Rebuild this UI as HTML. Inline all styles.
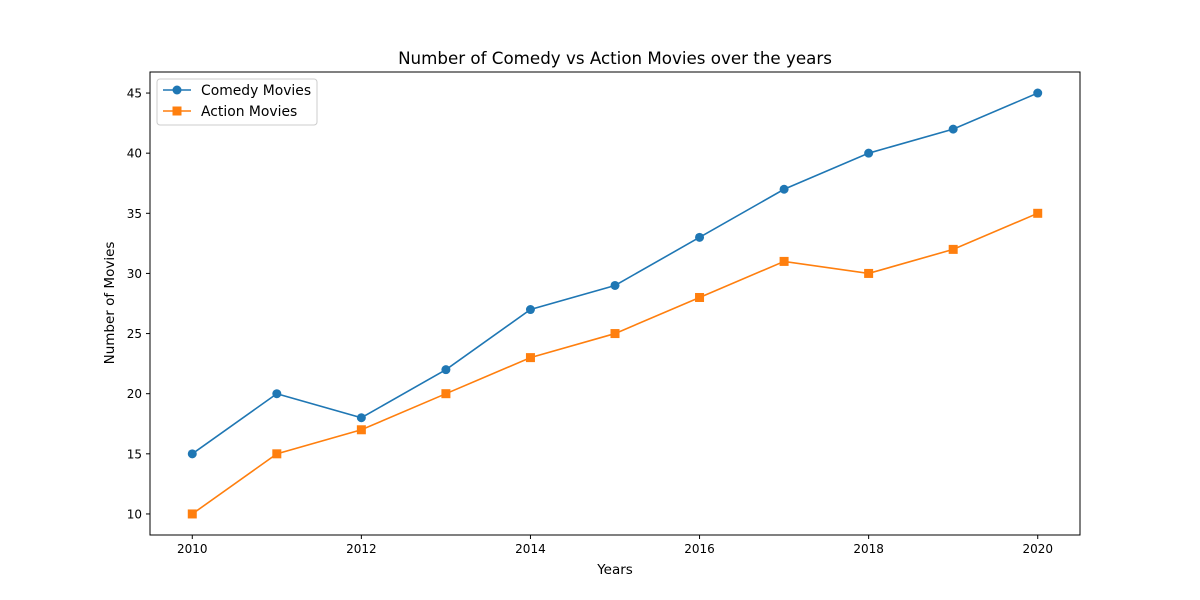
<!DOCTYPE html>
<html><head><meta charset="utf-8">
<style>
body{margin:0;background:#fff;}
svg{display:block;font-family:"DejaVu Sans","Liberation Sans",sans-serif;}
</style></head>
<body>
<svg id="chart" width="1200" height="600" xmlns="http://www.w3.org/2000/svg">
<rect width="1200" height="600" fill="#fff"/>
<text x="615" y="64" text-anchor="middle" font-size="16.7">Number of Comedy vs Action Movies over the years</text>
<text x="615" y="574" text-anchor="middle" font-size="13.5">Years</text>
<text x="114" y="303" text-anchor="middle" font-size="13.5" transform="rotate(-90 114 303)">Number of Movies</text>
<g id="ticks"></g>
<g id="series"></g>
<rect x="150" y="72" width="930" height="463" fill="none" stroke="#000" stroke-width="1"/>
<g>
<rect x="157" y="79" width="160" height="46" rx="3" fill="#fff" stroke="#ccc"/>
<line x1="163" y1="90" x2="191" y2="90" stroke="#1f77b4" stroke-width="1.5"/>
<circle cx="177" cy="90" r="4.5" fill="#1f77b4"/>
<text x="201" y="95" font-size="13.9">Comedy Movies</text>
<line x1="163" y1="111" x2="191" y2="111" stroke="#ff7f0e" stroke-width="1.5"/>
<rect x="172.5" y="106.5" width="9" height="9" fill="#ff7f0e"/>
<text x="201" y="116" font-size="13.9">Action Movies</text>
</g>
</svg>
<script>
const years = [2010,2011,2012,2013,2014,2015,2016,2017,2018,2019,2020];
const comedy = [15,20,18,22,27,29,33,37,40,42,45];
const action = [10,15,17,20,23,25,28,31,30,32,35];
const xTicks = [2010,2012,2014,2016,2018,2020];
const yTicks = [10,15,20,25,30,35,40,45];

const NS = "http://www.w3.org/2000/svg";
const x0=150,x1=1080,y0=72,y1=535;
const xMin=2009.5,xMax=2020.5,yMin=8.25,yMax=46.75;
function sx(v){return x0+(v-xMin)/(xMax-xMin)*(x1-x0);}
function sy(v){return y1-(v-yMin)/(yMax-yMin)*(y1-y0);}
function mk(tag,attrs,parent){const e=document.createElementNS(NS,tag);for(const k in attrs)e.setAttribute(k,attrs[k]);parent.appendChild(e);return e;}

const tg=document.getElementById('ticks');
xTicks.forEach(t=>{
  const l=mk('line',{x1:sx(t),x2:sx(t),y1:y1,y2:y1+4,stroke:'#000'},tg);
  
  
  const tx=mk('text',{x:sx(t),y:y1+18,'text-anchor':'middle','font-size':12},tg);
  tx.textContent=t;
  
  
});
yTicks.forEach(t=>{
  const l=mk('line',{x1:x0-4,x2:x0,y1:sy(t),y2:sy(t),stroke:'#000'},tg);
  
  
  const tx=mk('text',{x:x0-8,y:sy(t)+4.5,'text-anchor':'end','font-size':12},tg);
  tx.textContent=t;
  
  
});

const sg=document.getElementById('series');
function drawSeries(vals,color,shape,name){
  const pts=years.map((y,i)=>sx(y)+','+sy(vals[i])).join(' ');
  const pl=mk('polyline',{points:pts,fill:'none',stroke:color,'stroke-width':1.6},sg);
  
  
  years.forEach((y,i)=>{
    let m;
    if(shape==='circle') m=mk('circle',{cx:sx(y),cy:sy(vals[i]),r:4.5,fill:color},sg);
    else m=mk('rect',{x:sx(y)-4.5,y:sy(vals[i])-4.5,width:9,height:9,fill:color},sg);
    
    
  });
}
drawSeries(comedy,'#1f77b4','circle','comedy');
drawSeries(action,'#ff7f0e','square','action');
</script>
</body></html>
